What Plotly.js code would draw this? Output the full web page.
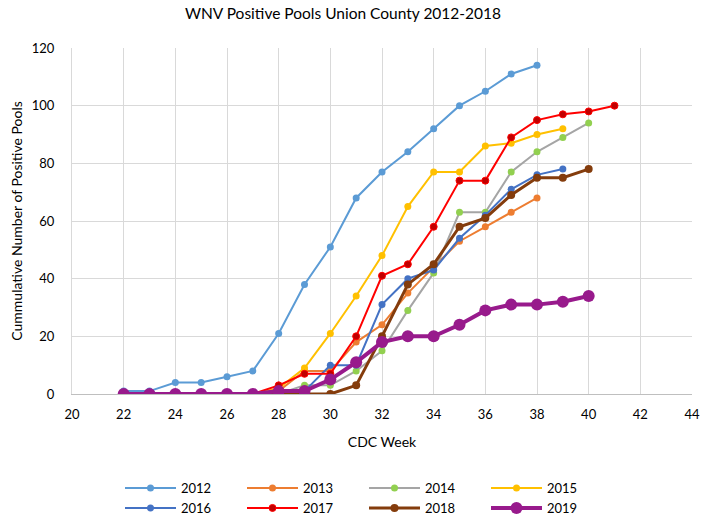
<!DOCTYPE html>
<html>
<head>
<meta charset="utf-8">
<script src="https://cdn.plot.ly/plotly-3.0.1.min.js"></script>
<style>html,body{margin:0;padding:0;background:#fff;}#chart{width:715px;height:518px;}</style>
</head>
<body>
<div id="chart"></div>
<script>
// CDC weeks (starting at week 22)
const weeks = [22,23,24,25,26,27,28,29,30,31,32,33,34,35,36,37,38,39,40,41];
const seriesNames = ["2012","2013","2014","2015","2016","2017","2018","2019"];

const v2012 = [1,1,4,4,6,8,21,38,51,68,77,84,92,100,105,111,114];
const v2013 = [0,0,0,0,0,0,1,8,8,18,24,35,44,53,58,63,68];
const v2014 = [0,0,0,0,0,0,0,3,3,8,15,29,42,63,63,77,84,89,94];
const v2015 = [0,0,0,0,0,0,2,9,21,34,48,65,77,77,86,87,90,92];
const v2016 = [0,0,0,0,0,0,1,1,10,10,31,40,43,54,62,71,76,78];
const v2017 = [0,0,0,0,0,0,3,7,7,20,41,45,58,74,74,89,95,97,98,100];
const v2018 = [0,0,0,0,0,0,0,0,0,3,20,38,45,58,61,69,75,75,78];
const v2019 = [0,0,0,0,0,0,1,1,5,11,18,20,20,24,29,31,31,32,34];

const values = [v2012,v2013,v2014,v2015,v2016,v2017,v2018,v2019];
const lineColors = ["#5B9BD5","#ED7D31","#A5A5A5","#FFC000","#4472C4","#FF0000","#843C0C","#981A8C"];
const markerColors = ["#5B9BD5","#ED7D31","#92D050","#FFC000","#4472C4","#C00000","#843C0C","#981A8C"];
const lineWidths = [2,2,2,2,2,2,3,4];
const markerSizes = [7,7,7,7,7,7,8,12];

const FONT = "Lato, 'Liberation Sans', sans-serif";

const traces = values.map((vals, i) => ({
  type: "scatter",
  mode: "lines+markers",
  name: seriesNames[i],
  x: weeks.slice(0, vals.length),
  y: vals,
  line: {color: lineColors[i], width: lineWidths[i]},
  marker: {color: markerColors[i], size: markerSizes[i],
           line: {color: lineColors[i], width: i === 5 ? 1 : 0}},
  legend: i < 4 ? "legend" : "legend2"
}));

const legendCommon = {
  orientation: "h",
  xref: "container", yref: "container",
  xanchor: "left", yanchor: "middle",
  itemwidth: 51,
  entrywidth: 56, entrywidthmode: "pixels",
  font: {family: FONT, size: 13, color: "#000"},
  bgcolor: "rgba(0,0,0,0)", borderwidth: 0,
  itemclick: false
};

const layout = {
  width: 715, height: 518,
  margin: {l: 72, r: 23, t: 48, b: 124},
  paper_bgcolor: "#fff", plot_bgcolor: "#fff",
  font: {family: FONT, color: "#595959"},
  title: {text: "WNV Positive Pools Union County 2012-2018",
          font: {family: FONT, size: 15.5, color: "#000"},
          x: 343/715, xanchor: "center", xref: "container",
          y: 1 - 14/518, yanchor: "middle", yref: "container"},
  xaxis: {
    range: [20, 44], dtick: 2, tick0: 20,
    showgrid: true, gridcolor: "#D9D9D9", gridwidth: 1,
    showline: true, linecolor: "#BFBFBF", linewidth: 1,
    zeroline: false, ticks: "",
    ticklabelstandoff: 8,
    tickfont: {family: FONT, size: 13, color: "#000"},
    title: {text: "CDC Week", font: {family: FONT, size: 14, color: "#000"}, standoff: 16}
  },
  yaxis: {
    range: [0, 120], dtick: 20, tick0: 0,
    showgrid: true, gridcolor: "#D9D9D9", gridwidth: 1,
    showline: true, linecolor: "#D9D9D9", linewidth: 1,
    zeroline: false, ticks: "",
    ticklabelstandoff: 14,
    tickfont: {family: FONT, size: 13, color: "#000"},
    title: {text: "Cummulative Number of Positive Pools", font: {family: FONT, size: 14, color: "#000"}, standoff: 5}
  },
  legend: Object.assign({}, legendCommon, {x: 120/715, y: 1 - 488/518}),
  legend2: Object.assign({}, legendCommon, {x: 120/715, y: 1 - 508/518}),
  showlegend: true
};

Plotly.newPlot("chart", traces, layout, {displayModeBar: false, staticPlot: true});
</script>
</body>
</html>
